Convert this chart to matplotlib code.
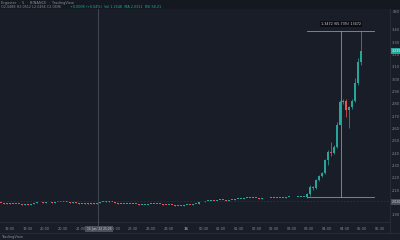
import numpy as np
import matplotlib
matplotlib.use("Agg")
import matplotlib.pyplot as plt
import matplotlib.transforms as mtransforms

# closing prices of each candle (open = previous close)
closes = [1.9992, 1.9951, 1.9976, 1.9927, 1.9911, 1.9943, 1.9894, 1.9870, 1.9886, 1.9862,
          1.9878, 1.9992, 2.0033, 2.0041, 2.0016, 2.0033, 2.0049, 2.0024, 2.0041, 2.0073,
          2.0089, 2.0106, 2.0041, 2.0024, 2.0033, 2.0008, 1.9927, 1.9951, 1.9959, 1.9943,
          1.9967, 1.9951, 1.9976, 2.0057, 2.0114, 2.0130, 2.0106, 2.0073, 2.0024, 1.9951,
          1.9911, 1.9927, 1.9902, 1.9919, 1.9894, 1.9911, 1.9813, 1.9846, 1.9870, 1.9886,
          1.9951, 1.9911, 1.9878, 1.9894, 1.9862, 1.9797, 1.9829, 1.9813, 1.9789, 1.9732,
          1.9789, 1.9829, 1.9846, 1.9837, 1.9894, 1.9951, 2.0033, 2.0089, 2.0154, 2.0187,
          2.0211, 2.0195, 2.0220, 2.0203, 2.0236, 2.0187, 2.0220, 2.0252, 2.0293, 2.0301,
          2.0317, 2.0398, 2.0382, 2.0398, 2.0390, 2.0407, 2.0333, 2.0366, 2.0358, 2.0374,
          2.0382, 2.0366, 2.0407, 2.0415, 2.0431, 2.0447, 2.0455, 2.0439, 2.0472, 2.0480,
          2.0488, 2.0496,
          2.0724, 2.1293, 2.1211, 2.1862, 2.2187, 2.2431, 2.3488, 2.4138, 2.4057, 2.4545,
          2.6333, 2.8203, 2.8285, 2.7553, 2.7797, 2.8285, 2.9748, 3.1455, 3.2350]
first_open = 2.0008

# wicks of the breakout candles (from index 102 on)
spike_start = 102
spike_highs = [2.0805, 2.1455, 2.1374, 2.1943, 2.2268, 2.2512, 2.3569, 2.4301, 2.4951, 2.4707,
               2.6577, 2.8366, 2.8447, 2.8447, 2.7878, 2.8447, 3.0154, 3.1780, 3.3976]
spike_lows = [2.0398, 2.0561, 2.1049, 2.1130, 2.1781, 2.2106, 2.2350, 2.3081, 2.3813, 2.3976,
              2.4463, 2.6976, 2.8041, 2.6976, 2.6089, 2.7634, 2.8203, 2.9585, 3.1211]

price_ticks = [3.4, 3.3, 3.2, 3.1, 3.0, 2.9, 2.8, 2.7, 2.6, 2.5, 2.4, 2.3, 2.2, 2.1, 2.0, 1.9]
time_labels = ["19:00", "19:30", "20:00", "20:30", "21:00", "21:30", "22:00", "22:30", "23:00",
               "23:30", "16", "00:30", "01:00", "01:30", "02:00", "02:30", "03:00", "03:30",
               "04:00", "04:30", "05:00", "05:30"]
cross_time = "15 Jun '22 21:25"
cross_price = 2.0154
label_price = 2.0098
measure_low = 2.0504
measure_high = 3.3976
measure_text = "1.3472 (65.73%) 13472"

BG = "#191d28"
HEAD = "#141821"
UP = "#26a69a"
DOWN = "#ef5350"
TXT = "#8a8d97"

W, H = 400, 240
fig = plt.figure(figsize=(4, 2.4), dpi=100, facecolor=BG)

def frac(x0, y0, x1, y1):
    return [x0 / W, 1 - y1 / H, (x1 - x0) / W, (y1 - y0) / H]

# header strip
hd = fig.add_axes(frac(0, 0, 400, 9))
hd.set_axis_off()
hd.add_patch(plt.Rectangle((0, 0), 1, 1, transform=hd.transAxes, color=HEAD))
fig.text(1 / W, 1 - 3 / H, "Ergaster  ·  5  ·  BINANCE  ·  TradingView", fontsize=2.6,
         color=TXT, va="center")
fig.text(1 / W, 1 - 6.5 / H, "O2.0488 H2.0512 L2.0466 C2.0496", fontsize=2.4,
         color=TXT, va="center")
fig.text(70 / W, 1 - 6.5 / H, "+0.0008 (+0.04%)  Vol 1.254K  MA 2.0311  RSI 58.21",
         fontsize=2.4, color=UP, va="center")

ax = fig.add_axes(frac(0, 9, 390, 222))
ax.set_facecolor(BG)
for s in ax.spines.values():
    s.set_visible(False)
ax.set_xticks([])
ax.set_yticks([])

n = len(closes)
idx = np.arange(n)
opens = [first_open] + closes[:-1]
highs = [max(o, c) for o, c in zip(opens, closes)]
lows = [min(o, c) for o, c in zip(opens, closes)]
for k in range(len(spike_highs)):
    highs[spike_start + k] = spike_highs[k]
    lows[spike_start + k] = spike_lows[k]

colors = [UP if c >= o else DOWN for o, c in zip(opens, closes)]
ax.vlines(idx, lows, highs, colors=colors, linewidth=0.5)
bottoms = [min(o, c) for o, c in zip(opens, closes)]
heights = [max(abs(c - o), 0.008) for o, c in zip(opens, closes)]
ax.bar(idx, heights, bottom=bottoms, width=0.75, color=colors, linewidth=0)

ax.set_xlim(-0.33, 129.67)
ax.set_ylim(1.845, 3.574)

# crosshair
ax.axvline(32.33, color="#4b4f5b", linewidth=0.6)
ax.axhline(cross_price, color="#2e323d", linewidth=0.6, linestyle=(0, (2, 2)))

# measure tool
ax.plot([102.1, 124.3], [measure_high, measure_high], color="#8f929b", linewidth=0.6)
ax.plot([102.1, 124.3], [measure_low, measure_low], color="#8f929b", linewidth=0.6)
ax.plot([113.3, 113.3], [measure_low, measure_high], color="#8f929b", linewidth=0.6)
ax.text(113.3, measure_high + 0.055, measure_text, fontsize=2.4, color="#d1d4dc",
        ha="center", va="center",
        bbox=dict(boxstyle="square,pad=0.4", fc="#0b0d12", ec="none"))

# price axis
fig.add_artist(plt.Line2D([390 / W, 390 / W], [1 - 9 / H, 1 - 233 / H], color="#2a2e39",
                          linewidth=0.6))
tr = mtransforms.blended_transform_factory(fig.transFigure, ax.transData)
for p in price_ticks:
    ax.text(392 / W, p, "%.2f" % p, transform=tr, fontsize=2.6, color=TXT,
            va="center", ha="left", clip_on=False)
fig.text(393 / W, 1 - 12 / H, "USD", fontsize=2.3, color=TXT, va="center")
ax.text(391.5 / W, closes[-1], "%.3f" % closes[-1], transform=tr, fontsize=2.3, color="white",
        va="center", ha="left", clip_on=False,
        bbox=dict(boxstyle="square,pad=0.3", fc=UP, ec="none"))
ax.text(391.5 / W, label_price, "%.3f" % label_price, transform=tr, fontsize=2.3,
        color="#d1d4dc", va="center", ha="left", clip_on=False,
        bbox=dict(boxstyle="square,pad=0.3", fc="#4a4e59", ec="none"))

# time axis
fig.add_artist(plt.Line2D([0, 390 / W], [1 - 222 / H, 1 - 222 / H], color="#2a2e39",
                          linewidth=0.6))
fig.add_artist(plt.Line2D([98 / W, 98 / W], [1 - 222 / H, 1 - 225 / H], color="#4b4f5b",
                          linewidth=0.6))
tick_x = 10 + 17.6 * np.arange(len(time_labels))
for x, lab in zip(tick_x, time_labels):
    if abs(x - 98) < 12:
        continue
    fig.text(x / W, 1 - 229 / H, lab, fontsize=2.5, color=TXT, ha="center", va="center",
             fontweight="bold" if lab == "16" else "normal")
fig.text(99 / W, 1 - 229 / H, cross_time, fontsize=2.2, color="#d1d4dc", ha="center",
         va="center", bbox=dict(boxstyle="square,pad=0.4", fc="#4a4e59", ec="none"))
fig.add_artist(plt.Line2D([0, 1], [1 - 233 / H, 1 - 233 / H], color="#2a2e39", linewidth=0.6))
fig.text(1 / W, 1 - 237 / H, "TradingView", fontsize=2.6, color=TXT, va="center")

fig.savefig("out.png", dpi=100, facecolor=BG)
